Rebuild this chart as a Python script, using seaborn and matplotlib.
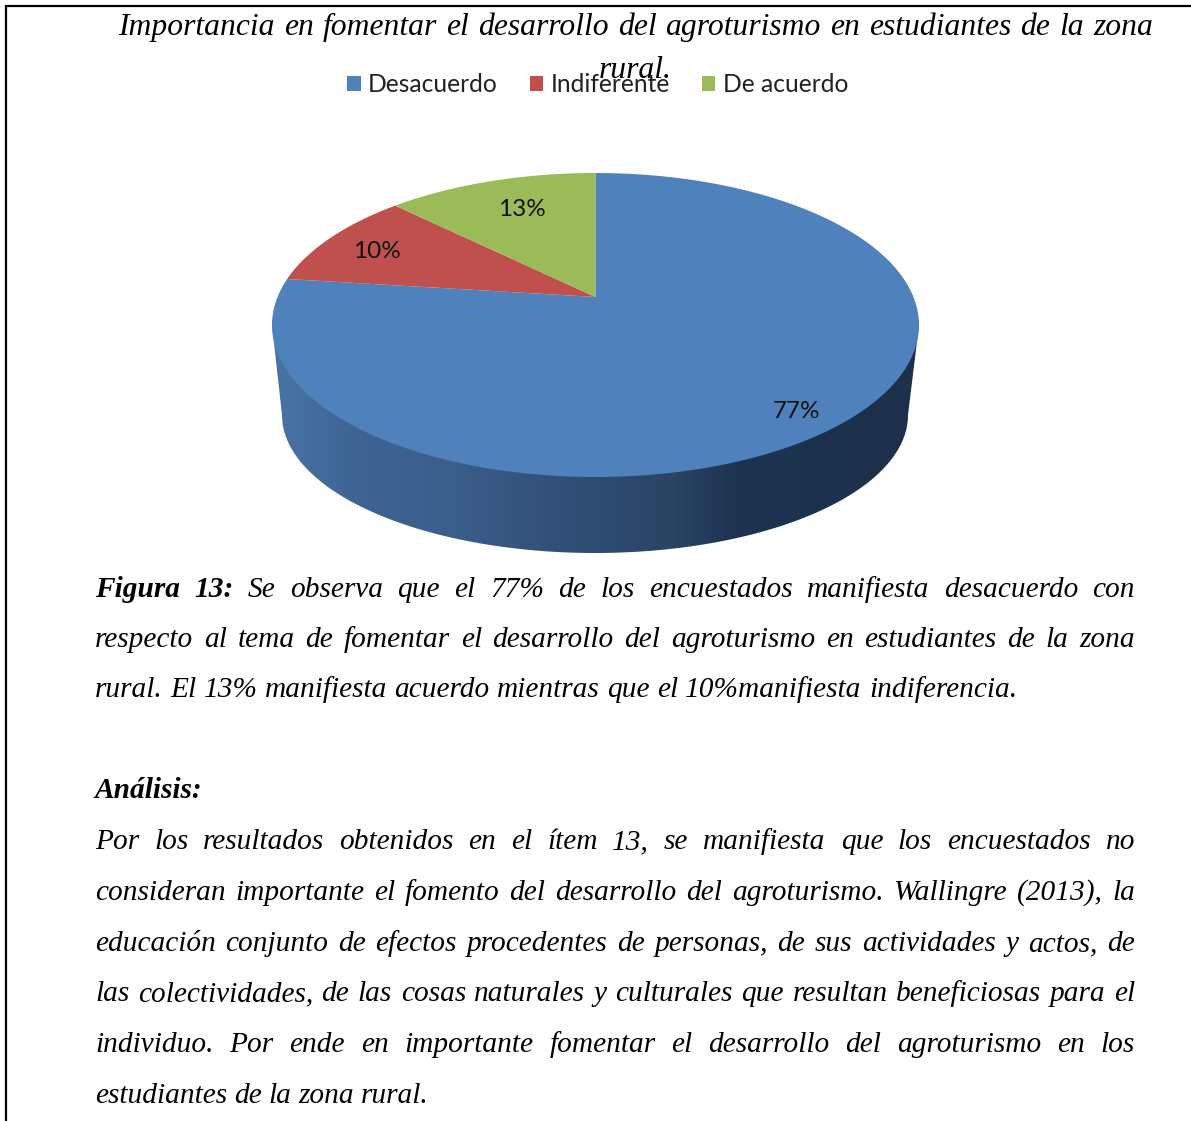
import numpy as np
import matplotlib
matplotlib.use('Agg')
import matplotlib.pyplot as plt
from matplotlib.colors import LinearSegmentedColormap
from matplotlib.patches import Polygon
import seaborn as sns

categories = ['Desacuerdo', 'Indiferente', 'De acuerdo']
values = [77, 10.4, 12.6]
pie_colors = ['#4f81bd', '#c0504d', '#9bbb59']

title_line = 'Importancia en fomentar el desarrollo del agroturismo en estudiantes de la zona'
title_last = 'rural.'
body_lines = [
    'Figura 13: Se observa que el 77% de los encuestados manifiesta desacuerdo con',
    'respecto al tema de fomentar el desarrollo del agroturismo en estudiantes de la zona',
    'rural. El 13% manifiesta acuerdo mientras que el 10%manifiesta indiferencia.',
    'Análisis:',
    'Por los resultados obtenidos en el ítem 13, se manifiesta que los encuestados no',
    'consideran importante  el fomento del desarrollo del agroturismo. Wallingre (2013), la',
    'educación conjunto de efectos procedentes de personas, de sus actividades y actos, de',
    'las colectividades, de las cosas naturales y culturales que resultan beneficiosas para el',
    'individuo. Por ende en importante fomentar el desarrollo del agroturismo en los',
    'estudiantes de la zona rural.',
]
body_baselines = [597, 647, 697, 798.5, 849, 900, 951, 1001, 1052, 1103]
body_ends = [1135, 1135, 1017, 202, 1135, 1135, 1135, 1135, 1135, 429]
bold_words = [2, 0, 0, 1, 0, 0, 0, 0, 0, 0]

# label centres for 77 / 10 / 13
label_x = [796, 377, 522]
label_y = [411, 252, 209]

side_stops = [0.0, 0.12, 0.3, 0.45, 0.62, 0.72, 1.0]
side_colors = ['#4874a5', '#3f6595', '#3a5c88', '#314f78', '#2a4464', '#1d3350', '#1c304b']

sns.set_theme(style='white')
plt.rcParams['font.family'] = ['Liberation Serif', 'DejaVu Serif']

fig = plt.figure(figsize=(11.91, 11.21), dpi=100)
ax = fig.add_axes([0, 0, 1, 1])
W, H = 1191, 1121

# ellipse of the top face, the apex sits above its centre (perspective)
cx, cy, a, b = 595.5, 325, 323.5, 152
q0 = 28 / 152


def project(r, ang):
    u = r * np.cos(ang)
    v = r * np.sin(ang)
    den = 1 + q0 * v
    p = u * np.sqrt(1 - q0 ** 2) / den
    q = (v + q0) / den
    return cx + a * p, cy - b * q


# side wall
t = np.linspace(0, np.pi, 200)
side_xy = np.concatenate([
    np.column_stack([595 + 313 * np.cos(t + np.pi), 415 - 138 * np.sin(t + np.pi)]),
    np.column_stack([cx + a * np.cos(t), cy - b * np.sin(t)]),
])
cmap = LinearSegmentedColormap.from_list('side', list(zip(side_stops, side_colors)))
img = ax.imshow(np.linspace(0, 1, 512)[None, :], cmap=cmap, aspect='auto',
                extent=[272, 919, 560, 320], zorder=1)
clip = Polygon(side_xy, closed=True, transform=ax.transData, fc='none', ec='none')
ax.add_patch(clip)
img.set_clip_path(clip)

# top face
fracs = np.array(values) / sum(values)
edges = np.pi / 2 - 2 * np.pi * np.concatenate([[0], np.cumsum(fracs)])
for cat, col, a0, a1 in zip(categories, pie_colors, edges[:-1], edges[1:]):
    ang = np.linspace(a0, a1, 200)
    xs, ys = project(1.0, ang)
    ax_x, ax_y = project(0.0, 0.0)
    ax.fill(np.r_[ax_x, xs], np.r_[ax_y, ys], color=col, lw=0, zorder=2, label=cat)

for v, x, y in zip(values, label_x, label_y):
    ax.text(x, y, f'{v:.0f}%', ha='center', va='center', fontsize=17.5,
            family=['Lato', 'DejaVu Sans'], color='#111111', zorder=3)

leg = ax.legend(loc='center left', bbox_to_anchor=(347 / W, 1 - 85 / H), ncol=3, frameon=False,
                handlelength=0.55, handleheight=0.55, handletextpad=0.3, columnspacing=1.3,
                borderaxespad=0, borderpad=0,
                prop={'family': ['Lato', 'DejaVu Sans'], 'size': 17.7})
for tx in leg.get_texts():
    tx.set_color('#222222')

# frame around the page
ax.plot([6, 6, W], [H, 6, 6], color='black', lw=1.6, solid_joinstyle='miter', zorder=4)

renderer = fig.canvas.get_renderer()


def word_width(word, **kw):
    tx = ax.text(0, 0, word, **kw)
    w = tx.get_window_extent(renderer).width
    tx.remove()
    return w


def justified(line, x0, x1, y, size, n_bold=0):
    words = line.split()
    styles = [dict(fontsize=size, style='italic', weight='bold' if i < n_bold else 'normal')
              for i in range(len(words))]
    widths = [word_width(w, **s) for w, s in zip(words, styles)]
    gap = (x1 - x0 - sum(widths)) / max(len(words) - 1, 1)
    x = x0
    for w, s, wd in zip(words, styles, widths):
        ax.text(x, y, w, va='baseline', ha='left', color='black', zorder=5, **s)
        x += wd + gap


ax.set_xlim(0, W)
ax.set_ylim(H, 0)
ax.axis('off')

justified(title_line, 118, 1153, 35, 22.8)
ax.text(635, 78, title_last, ha='center', va='baseline', fontsize=22.8, style='italic',
        color='black', zorder=5)

for line, y, x1, nb in zip(body_lines, body_baselines, body_ends, bold_words):
    justified(line, 95, x1, y, 21.2, nb)

fig.savefig('out.png', dpi=100, facecolor='white')
